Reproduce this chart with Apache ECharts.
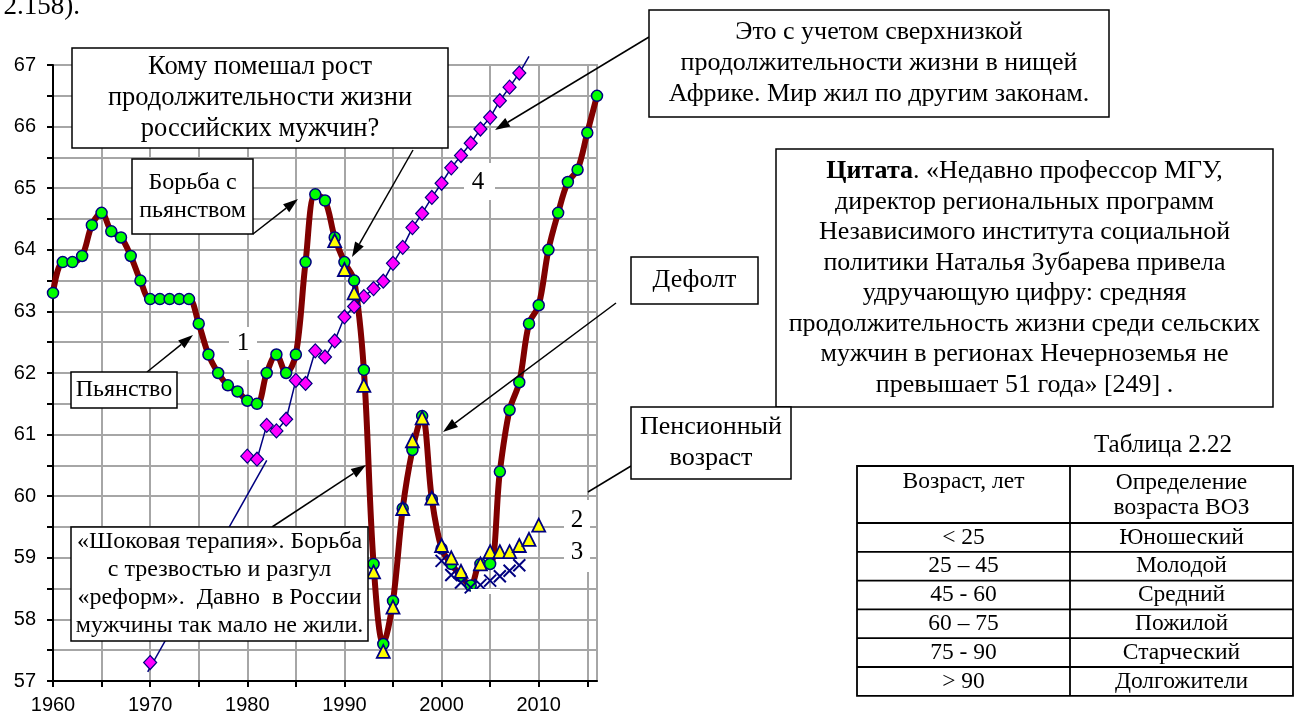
<!DOCTYPE html>
<html>
<head>
<meta charset="utf-8">
<script src="https://cdn.jsdelivr.net/npm/echarts@6/dist/echarts.min.js"></script>
<style>
html, body { margin: 0; padding: 0; background: #fff; }
#main { width: 1295px; height: 716px; }
</style>
</head>
<body>
<div id="main"></div>
<script>
// 1 - Россия, мужчины
var yearsRussia = [1960, 1961, 1962, 1963, 1964, 1965, 1966, 1967, 1968, 1969,
	1970, 1971, 1972, 1973, 1974, 1975, 1976, 1977, 1978, 1979,
	1980, 1981, 1982, 1983, 1984, 1985, 1986, 1987, 1988, 1989,
	1990, 1991, 1992, 1993, 1994, 1995, 1996, 1997, 1998, 1999,
	2000, 2001, 2002, 2003, 2004, 2005, 2006, 2007, 2008, 2009,
	2010, 2011, 2012, 2013, 2014, 2015, 2016];
var lifeRussia = [63.3, 63.8, 63.8, 63.9, 64.4, 64.6, 64.3, 64.2, 63.9, 63.5,
	63.2, 63.2, 63.2, 63.2, 63.2, 62.8, 62.3, 62.0, 61.8, 61.7,
	61.55, 61.5, 62.0, 62.3, 62.0, 62.3, 63.8, 64.9, 64.8, 64.2,
	63.8, 63.5, 62.05, 58.9, 57.6, 58.3, 59.8, 60.75, 61.3, 59.95,
	59.15, 58.9, 58.7, 58.55, 58.9, 58.9, 60.4, 61.4, 61.85, 62.8,
	63.1, 64.0, 64.6, 65.1, 65.3, 65.9, 66.5];

// 2 - треугольники
var yearsTri = [1989, 1990, 1991, 1992, 1993, 1994, 1995, 1996, 1997, 1998, 1999,
	2000, 2001, 2002, 2004, 2005, 2006, 2007, 2008, 2009, 2010];
var lifeTri = [64.15, 63.68, 63.3, 61.8, 58.77, 57.48, 58.2, 59.8, 60.9, 61.27, 59.97,
	59.2, 59.0, 58.78, 58.9, 59.1, 59.1, 59.1, 59.2, 59.3, 59.53];

// 3 - крестики
var yearsCross = [2000, 2001, 2002, 2003, 2004, 2005, 2006, 2007, 2008];
var lifeCross = [58.95, 58.72, 58.6, 58.52, 58.56, 58.63, 58.7, 58.79, 58.88];

// 4 - мир
var yearsWorld = [1970, 1980, 1981, 1982, 1983, 1984, 1985, 1986, 1987, 1988, 1989,
	1990, 1991, 1992, 1993, 1994, 1995, 1996, 1997, 1998, 1999,
	2000, 2001, 2002, 2003, 2004, 2005, 2006, 2007, 2008, 2009];
var lifeWorld = [57.3, 60.65, 60.6, 61.15, 61.06, 61.25, 61.88, 61.83, 62.36, 62.26, 62.52,
	62.91, 63.08, 63.24, 63.37, 63.49, 63.78, 64.04, 64.36, 64.59, 64.85,
	65.08, 65.33, 65.53, 65.73, 65.96, 66.15, 66.42, 66.64, 66.87, 67.14];

// отрезок от 1970 года
var trendYears = [1969.75, 1982];
var trendValues = [57.15, 60.58];

var pensionAge = 60;

var xLabels = [1960, 1970, 1980, 1990, 2000, 2010];
var xTicks = [1960, 1965, 1970, 1975, 1980, 1985, 1990, 1995, 2000, 2005, 2010, 2015];

// Таблица 2.22
var tableAges = ['< 25', '25 – 45', '45 - 60', '60 – 75', '75 - 90', '> 90'];
var tableNames = ['Юношеский', 'Молодой', 'Средний', 'Пожилой', 'Старческий', 'Долгожители'];

function pairs(xs, ys) {
	return xs.map(function (x, i) { return [x, ys[i]]; });
}

// world line: break the gap after 1970, hide marker of the last point
var worldData = [];
yearsWorld.forEach(function (x, i) {
	if (i > 0 && x - yearsWorld[i - 1] > 1) worldData.push([(x + yearsWorld[i - 1]) / 2, null]);
	if (i === yearsWorld.length - 1) worldData.push({ value: [x, lifeWorld[i]], symbol: 'none' });
	else worldData.push([x, lifeWorld[i]]);
});

var serif = '"Liberation Serif", "Times New Roman", serif';

function box(x, y, w, h, text, fs, lh, rich) {
	return [{
		type: 'rect', z: 100,
		shape: { x: x, y: y, width: w, height: h },
		style: { fill: '#fff', stroke: '#000', lineWidth: 1.5 }
	}, {
		type: 'text', z: 101,
		x: x + w / 2, y: y + h / 2,
		style: {
			text: text, fill: '#000', fontSize: fs, fontFamily: serif, lineHeight: lh,
			textAlign: 'center', align: 'center', textVerticalAlign: 'middle', verticalAlign: 'middle',
			rich: rich
		}
	}];
}

function arrow(x1, y1, x2, y2, head) {
	var a = Math.atan2(y2 - y1, x2 - x1);
	var L = head ? 15 : 0, W = 5;
	var bx = x2 - L * Math.cos(a), by = y2 - L * Math.sin(a);
	var out = [{
		type: 'line', z: 99,
		shape: { x1: x1, y1: y1, x2: bx, y2: by },
		style: { stroke: '#000', lineWidth: 1.5 }
	}];
	if (head) {
		out.push({
			type: 'polygon', z: 99,
			shape: { points: [[x2, y2], [bx + W * Math.sin(a), by - W * Math.cos(a)], [bx - W * Math.sin(a), by + W * Math.cos(a)]] },
			style: { fill: '#000' }
		});
	}
	return out;
}

function whiteRect(x, y, w, h) {
	return { type: 'rect', z: 90, shape: { x: x, y: y, width: w, height: h }, style: { fill: '#fff' } };
}

function label(x, y, text, fs, z) {
	return {
		type: 'text', z: z || 91, x: x, y: y,
		style: { text: text, fill: '#000', fontSize: fs, fontFamily: serif,
			textAlign: 'center', align: 'center', textVerticalAlign: 'middle', verticalAlign: 'middle' }
	};
}

var graphics = [];
graphics.push({
	type: 'text', z: 91, x: 80, y: 20,
	style: { text: '2.158).', fill: '#000', fontSize: 27, fontFamily: serif,
		textAlign: 'right', align: 'right', textVerticalAlign: 'bottom', verticalAlign: 'bottom' }
});

// numbers on the lines
graphics.push(whiteRect(229, 327, 28, 33), label(243, 343, '1', 25));
graphics.push(whiteRect(464, 163, 31, 37), label(478, 182, '4', 25));
graphics.push(whiteRect(564, 500, 26, 72), label(577, 520, '2', 25), label(577, 552, '3', 25));
graphics.push(whiteRect(471, 589, 29, 5));

// callouts
graphics = graphics.concat(
	arrow(413, 150, 352, 257, true),
	box(72, 48, 376, 100, 'Кому помешал рост\nпродолжительности жизни\nроссийских мужчин?', 26.5, 31),
	arrow(253, 234, 298, 199, true),
	box(132, 159, 121, 75, 'Борьба с\nпьянством', 24, 28),
	arrow(147, 372, 193, 335, true),
	box(71, 372, 106, 36, 'Пьянство', 24, 28),
	arrow(272, 527, 366, 465, true),
	box(71, 527, 297, 114, '«Шоковая терапия». Борьба\nс трезвостью и разгул\n«реформ».  Давно  в России\nмужчины так мало не жили.', 24, 28),
	arrow(649, 37, 495, 130, true),
	box(649, 10, 460, 107, 'Это с учетом сверхнизкой\nпродолжительности жизни в нищей\nАфрике. Мир жил по другим законам.', 26, 31),
	arrow(616, 303, 443, 432, true),
	box(631, 257, 127, 47, 'Дефолт', 26, 30),
	box(776, 149, 497, 258,
		'{b|Цитата}. «Недавно профессор МГУ,\nдиректор региональных программ\nНезависимого института социальной\nполитики Наталья Зубарева привела\nудручающую цифру: средняя\nпродолжительность жизни среди сельских\nмужчин в регионах Нечерноземья не\nпревышает 51 года» [249] .',
		26, 30.5, { b: { fontWeight: 'bold', fontSize: 26, fontFamily: serif, lineHeight: 30.5 } }),
	arrow(588, 492, 631, 466, false),
	box(631, 407, 160, 72, 'Пенсионный\nвозраст', 26, 31)
);

// table
var tL = 857, tR = 1293, tC = 1070, tTop = 466, tHead = 523, rowH = 28.8;
var tFont = 23.5;
graphics.push(label(1163, 445, 'Таблица 2.22', 25));
graphics.push({ type: 'rect', z: 100, shape: { x: tL, y: tTop, width: tR - tL, height: tHead - tTop + rowH * tableAges.length },
	style: { fill: '#fff', stroke: '#000', lineWidth: 1.8 } });
graphics.push({ type: 'line', z: 101, shape: { x1: tC, y1: tTop, x2: tC, y2: tHead + rowH * tableAges.length }, style: { stroke: '#000', lineWidth: 1.8 } });
graphics.push({ type: 'line', z: 101, shape: { x1: tL, y1: tHead, x2: tR, y2: tHead }, style: { stroke: '#000', lineWidth: 1.8 } });
graphics.push(label((tL + tC) / 2, 482, 'Возраст, лет', tFont, 102));
graphics.push({
	type: 'text', z: 102, x: (tC + tR) / 2, y: 495,
	style: { text: 'Определение\nвозраста ВОЗ', fill: '#000', fontSize: tFont, fontFamily: serif, lineHeight: 25,
		textAlign: 'center', align: 'center', textVerticalAlign: 'middle', verticalAlign: 'middle' }
});
tableAges.forEach(function (a, i) {
	var y0 = tHead + rowH * i;
	if (i > 0) graphics.push({ type: 'line', z: 101, shape: { x1: tL, y1: y0, x2: tR, y2: y0 }, style: { stroke: '#000', lineWidth: 1.8 } });
	graphics.push(label((tL + tC) / 2, y0 + rowH / 2, a, tFont, 102), label((tC + tR) / 2, y0 + rowH / 2, tableNames[i], tFont, 102));
});

var myChart = echarts.init(document.getElementById('main'));
var option = {
	animation: false,
	backgroundColor: '#fff',
	grid: {
		left: 53, top: 65, width: 544, height: 616,
		show: true, borderColor: '#a6a6a6', borderWidth: 2
	},
	xAxis: {
		type: 'value', min: 1960, max: 2016, interval: 5,
		axisLine: { lineStyle: { color: '#000', width: 2 } },
		axisTick: { length: 6, customValues: xTicks, lineStyle: { color: '#000', width: 2 } },
		axisLabel: {
			customValues: xLabels,
			formatter: function (v) { return String(v); },
			color: '#000', fontSize: 20, fontFamily: '"Liberation Sans", Arial', margin: 14
		},
		splitLine: { show: true, lineStyle: { color: '#a6a6a6', width: 2 } }
	},
	yAxis: {
		type: 'value', min: 57, max: 67, interval: 0.5,
		axisLine: { show: true, lineStyle: { color: '#000', width: 2 } },
		axisTick: { show: true, length: 6, lineStyle: { color: '#000', width: 2 } },
		axisLabel: {
			formatter: function (v) { return Number.isInteger(v) ? String(v) : ''; },
			color: '#000', fontSize: 20, fontFamily: '"Liberation Sans", Arial', margin: 17
		},
		splitLine: { show: true, lineStyle: { color: '#a6a6a6', width: 2 } }
	},
	series: [{
		name: '1', type: 'line', data: pairs(yearsRussia, lifeRussia),
		smooth: 0.35, showAllSymbol: true,
		symbol: 'circle', symbolSize: 11,
		lineStyle: { color: '#800000', width: 6 },
		itemStyle: { color: '#00ff00', borderColor: '#000080', borderWidth: 1.5 },
		markLine: {
			silent: true, symbol: 'none', label: { show: false },
			lineStyle: { color: '#ff0000', width: 2, type: 'solid' },
			data: [[{ coord: [1960, pensionAge] }, { coord: [2016.4, pensionAge] }]]
		},
		z: 2
	}, {
		name: '4', type: 'line', data: worldData, clip: false,
		symbol: 'diamond', symbolSize: [13, 14], showAllSymbol: true,
		lineStyle: { color: '#000080', width: 1.5 },
		itemStyle: { color: '#ff00ff', borderColor: '#000080', borderWidth: 1.2 },
		z: 3
	}, {
		name: 'trend', type: 'line', data: pairs(trendYears, trendValues), symbol: 'none', clip: false,
		lineStyle: { color: '#000080', width: 1.5 }, z: 3
	}, {
		name: '2', type: 'scatter', data: pairs(yearsTri, lifeTri),
		symbol: 'triangle', symbolSize: 13,
		itemStyle: { color: '#ffff00', borderColor: '#000080', borderWidth: 1.8, opacity: 1 },
		z: 4
	}, {
		name: '3', type: 'scatter', data: pairs(yearsCross, lifeCross),
		symbol: 'path://M0,0L10,10M10,0L0,10', symbolSize: 12,
		itemStyle: { color: 'none', borderColor: '#000080', borderWidth: 2, opacity: 1 },
		z: 5
	}],
	graphic: { elements: graphics }
};
myChart.setOption(option);
</script>
</body>
</html>
